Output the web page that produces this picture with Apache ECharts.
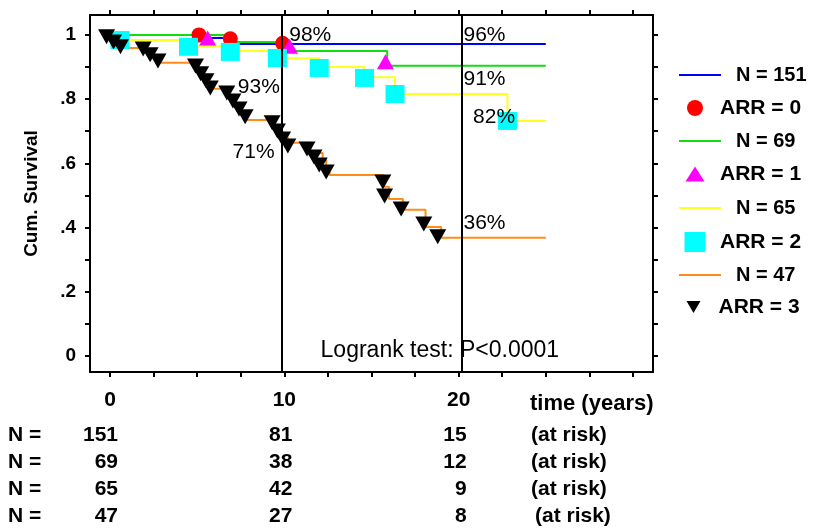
<!DOCTYPE html>
<html>
<head>
<meta charset="utf-8">
<script src="https://cdn.jsdelivr.net/npm/echarts@6/dist/echarts.min.js"></script>
<style>html,body{margin:0;padding:0;background:#fff}#c{width:818px;height:528px}</style>
</head>
<body>
<div id="c"></div>
<script>
// ---- data ----
const xTicks = [0, 2.5, 5, 7.5, 10, 12.5, 15, 17.5, 20, 22.5, 25, 27.5, 30];
const xLabels = [0, 10, 20];
const yTicks = [0, 0.1, 0.2, 0.3, 0.4, 0.5, 0.6, 0.7, 0.8, 0.9, 1.0];
const yLabels = [0, 0.2, 0.4, 0.6, 0.8, 1.0];

// Kaplan-Meier steps [time, survival after step]
const curveN151 = [[0, 1], [5.1, 0.99], [7.0, 0.972], [25, 0.972]];
const curveN69 = [[0, 1], [7.0, 0.978], [10.3, 0.95], [15.9, 0.904], [25, 0.904]];
const curveN65 = [[0, 1], [0.57, 0.984], [4.5, 0.965], [6.9, 0.95], [9.6, 0.927], [12.0, 0.9], [14.6, 0.868], [16.35, 0.816], [22.8, 0.732], [25, 0.732]];
const curveN47 = [[0, 1], [0.35, 0.98], [0.7, 0.959], [1.9, 0.945], [2.3, 0.93], [2.75, 0.913],
  [4.9, 0.893], [5.2, 0.872], [5.5, 0.852], [5.75, 0.832], [6.7, 0.808], [7.05, 0.783], [7.4, 0.759], [7.75, 0.735],
  [9.3, 0.717], [9.6, 0.699], [9.9, 0.681], [10.2, 0.664], [11.5, 0.632], [12.2, 0.61], [12.4, 0.587], [12.6, 0.564],
  [15.7, 0.527], [16.0, 0.489], [16.8, 0.455], [18.1, 0.402], [19.0, 0.368], [25, 0.368]];

// marks
const marksARR0 = [[5.1, 1.0], [6.9, 0.988], [9.9, 0.974]];
const marksARR1 = [[5.6, 0.99], [10.3, 0.965], [15.8, 0.916]];
const marksARR2 = [[0.57, 0.984], [4.5, 0.963], [6.9, 0.947], [9.6, 0.928], [12.0, 0.897], [14.6, 0.866], [16.35, 0.816], [22.8, 0.732]];
const marksARR3 = [[-0.2, 0.994], [0.2, 0.978], [0.6, 0.963],
  [1.9, 0.956], [2.3, 0.938], [2.75, 0.919],
  [4.9, 0.903], [5.2, 0.879], [5.5, 0.857], [5.75, 0.835],
  [6.7, 0.819], [7.05, 0.794], [7.4, 0.769], [7.75, 0.745],
  [9.3, 0.726], [9.6, 0.701], [9.9, 0.676], [10.2, 0.654],
  [11.3, 0.645], [11.7, 0.62], [12.0, 0.595], [12.4, 0.573],
  [15.65, 0.542], [15.75, 0.498], [16.7, 0.458], [18.0, 0.411], [18.8, 0.371]];

const refLines = [9.83, 20.17];
const annotations = [
  [10.25, 1.0, '98%'], [7.3, 0.838, '93%'], [7.0, 0.636, '71%'],
  [20.25, 1.0, '96%'], [20.25, 0.861, '91%'], [20.8, 0.745, '82%'], [20.25, 0.413, '36%']
];
const testNote = [12.05, 0.0156, 'Logrank test: P<0.0001'];

const seriesNames = ['N = 151', 'ARR = 0', 'N = 69', 'ARR = 1', 'N = 65', 'ARR = 2', 'N = 47', 'ARR = 3'];
const atRiskTimes = [0, 10, 20];
const atRiskN151 = [151, 81, 15];
const atRiskN69 = [69, 38, 12];
const atRiskN65 = [65, 42, 9];
const atRiskN47 = [47, 27, 8];

// ---- chart ----
const FF = '"Liberation Sans", Arial, sans-serif';
const chart = echarts.init(document.getElementById('c'), null, {renderer: 'canvas'});
const axLine = {show: true, onZero: false, lineStyle: {color: '#000', width: 2}};
const tick = (vals) => ({show: true, inside: false, length: 5, customValues: vals, lineStyle: {color: '#000', width: 2}});
const X0 = -1.15, X1 = 31.15, Y0 = -0.05, Y1 = 1.062;

function lineS(name, data, color) {
  return {name, type: 'line', data, step: 'end', symbol: 'none', showSymbol: false, lineStyle: {color, width: 2}, itemStyle: {color}, silent: true, z: 2, animation: false};
}
function markS(name, data, color, symbol, size, rot) {
  return {name, type: 'scatter', data, symbol, symbolSize: size, symbolRotate: rot || 0, itemStyle: {color, opacity: 1}, silent: true, z: 3, animation: false};
}
function lineLegend(name, cy) {
  return {data: [{name, icon: 'path://M0,0L42,0L42,2L0,2Z'}], left: 674, top: cy - 15, orient: 'vertical', itemWidth: 42, itemHeight: 2, selectedMode: false,
    textStyle: {fontFamily: FF, fontWeight: 'bold', fontSize: 20, color: '#000', lineHeight: 24, padding: [0, 0, 0, 10]}};
}
function markLegend(name, cy, icon, w, h) {
  const left = 690 - w / 2;
  return {data: [{name, icon}], left, top: cy - 15, orient: 'vertical', itemWidth: w, itemHeight: h, selectedMode: false,
    textStyle: {fontFamily: FF, fontWeight: 'bold', fontSize: 21, color: '#000', lineHeight: 24, padding: [0, 0, 0, 715 - left - w - 5]}};
}

const option = {
  animation: false,
  backgroundColor: '#fff',
  grid: {left: 90, right: 165, top: 15, bottom: 156, containLabel: false, outerBoundsMode: 'none'},
  xAxis: [
    {type: 'value', position: 'bottom', min: X0, max: X1, axisLine: axLine, axisTick: tick(xTicks),
     axisLabel: {customValues: xLabels, margin: 18, color: '#000', fontFamily: FF, fontWeight: 'bold', fontSize: 21}, splitLine: {show: false}},
    {type: 'value', position: 'top', min: X0, max: X1, axisLine: axLine, axisTick: tick(xTicks),
     axisLabel: {show: false}, splitLine: {show: false}}
  ],
  yAxis: [
    {type: 'value', position: 'left', min: Y0, max: Y1, axisLine: axLine, axisTick: tick(yTicks),
     axisLabel: {customValues: yLabels, margin: 14, color: '#000', fontFamily: FF, fontWeight: 'bold', fontSize: 19,
       formatter: v => (Math.abs(v) < 1e-9 ? '0' : Math.abs(v - 1) < 1e-9 ? '1' : v.toFixed(1).replace(/^0/, ''))},
     splitLine: {show: false},
     name: 'Cum. Survival', nameLocation: 'middle', nameGap: 49, nameRotate: 90,
     nameTextStyle: {color: '#000', fontFamily: FF, fontWeight: 'bold', fontSize: 19}},
    {type: 'value', position: 'right', min: Y0, max: Y1, axisLine: axLine, axisTick: tick(yTicks),
     axisLabel: {show: false}, splitLine: {show: false}}
  ],
  legend: [
    lineLegend(seriesNames[0], 73),
    markLegend(seriesNames[1], 106, 'circle', 16, 16),
    lineLegend(seriesNames[2], 139),
    markLegend(seriesNames[3], 172, 'triangle', 19, 15),
    lineLegend(seriesNames[4], 206),
    markLegend(seriesNames[5], 240, 'rect', 21, 20),
    lineLegend(seriesNames[6], 273),
    markLegend(seriesNames[7], 305, 'path://M0,0L14,0L7,12Z', 17, 12)
  ],
  series: [
    Object.assign(lineS(seriesNames[0], curveN151, '#0000ff'), {
      markLine: {silent: true, symbol: 'none', label: {show: false}, lineStyle: {color: '#000', width: 2, type: 'solid'},
        data: refLines.map(v => ({xAxis: v}))}}),
    lineS(seriesNames[2], curveN69, '#11dd11'),
    lineS(seriesNames[4], curveN65, '#ffff22'),
    lineS(seriesNames[6], curveN47, '#ff8c1a'),
    markS(seriesNames[1], marksARR0, '#ff0000', 'circle', 15),
    markS(seriesNames[3], marksARR1, '#ff00ff', 'triangle', [17, 15]),
    markS(seriesNames[5], marksARR2, '#00ffff', 'rect', [19, 18]),
    markS(seriesNames[7], marksARR3, '#000000', 'triangle', [17, 15], 180),
    {name: 'annot', type: 'scatter', symbol: 'circle', symbolSize: 1, itemStyle: {color: 'rgba(0,0,0,0)'}, silent: true, z: 5,
     data: annotations.map(a => ({value: a})).concat([{value: testNote, label: {fontSize: 23}}]),
     label: {show: true, position: 'right', distance: 0, formatter: p => p.value[2], color: '#000', opacity: 1,
       textBorderWidth: 0, fontFamily: FF, fontSize: 21}}
  ]
};
chart.setOption(option);

// at-risk table under the axis
const rowsY = [435, 462, 489, 516];
const rows = [atRiskN151, atRiskN69, atRiskN65, atRiskN47];
const txt = {fontFamily: FF, fontWeight: 'bold', fontSize: 21, fill: '#000'};
const g = [];
g.push({type: 'text', x: 530, y: 404, style: Object.assign({text: 'time (years)', align: 'left', verticalAlign: 'middle'}, txt, {fontSize: 22})});
rows.forEach((row, r) => {
  g.push({type: 'text', x: 8, y: rowsY[r], style: Object.assign({text: 'N =', align: 'left', verticalAlign: 'middle'}, txt)});
  row.forEach((n, i) => {
    const px = chart.convertToPixel({xAxisIndex: 0}, atRiskTimes[i]);
    g.push({type: 'text', x: px + 8, y: rowsY[r], style: Object.assign({text: String(n), align: 'right', verticalAlign: 'middle'}, txt)});
  });
  g.push({type: 'text', x: 531 + (r === 3 ? 4 : 0), y: rowsY[r], style: Object.assign({text: '(at risk)', align: 'left', verticalAlign: 'middle'}, txt)});
});
chart.setOption({graphic: g});
</script>
</body>
</html>
